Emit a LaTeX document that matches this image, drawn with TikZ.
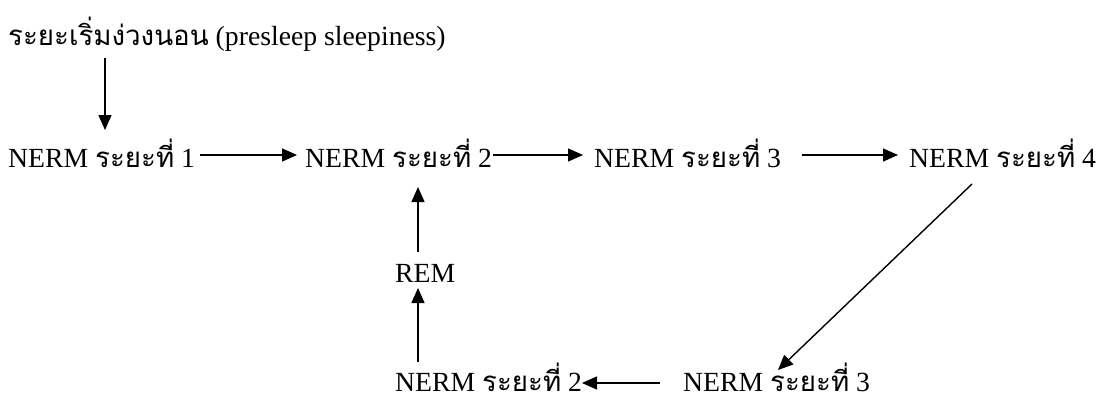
\documentclass[tikz,border=0pt]{standalone}
\usepackage{fontspec}
\setmainfont{Liberation Serif}
\newfontfamily\thai[Script=Thai]{Loma}
\usetikzlibrary{arrows.meta}
\begin{document}
\begin{tikzpicture}[x=1pt,y=1pt,
  lbl/.style={anchor=base west,inner sep=0pt,text depth=0pt,font=\fontsize{27.7}{33}\selectfont},
  arr/.style={line width=1.4pt,-{Triangle[length=15pt,width=13pt]}}]
\useasboundingbox (0,0) rectangle (1101,-399);
\node[lbl] (top) at (8,-45) {{\thai ระยะเริ่มง่วงนอน} (presleep sleepiness)};
\node[lbl] (n1) at (8,-167) {NERM {\thai ระยะที่} 1};
\node[lbl] (n2) at (305,-167) {NERM {\thai ระยะที่} 2};
\node[lbl] (n3) at (594,-167) {NERM {\thai ระยะที่} 3};
\node[lbl] (n4) at (909,-167) {NERM {\thai ระยะที่} 4};
\node[lbl] (rem) at (395,-282) {REM};
\node[lbl] (b2) at (395,-391) {NERM {\thai ระยะที่} 2};
\node[lbl] (b3) at (683,-391) {NERM {\thai ระยะที่} 3};
\draw[arr] ([shift={(97,-13)}]top.base west) -- ([shift={(97,37)}]n1.base west);
\draw[arr] ([shift={(-105,12)}]n2.base west) -- ([shift={(-8,12)}]n2.base west);
\draw[arr] ([shift={(-101,12)}]n3.base west) -- ([shift={(-11,12)}]n3.base west);
\draw[arr] ([shift={(-107,12)}]n4.base west) -- ([shift={(-11,12)}]n4.base west);
\draw[arr] ([shift={(23,30)}]rem.base west) -- ([shift={(23,95)}]rem.base west);
\draw[arr] ([shift={(23,29)}]b2.base west) -- ([shift={(23,-6)}]rem.base west);
\draw[arr] ([shift={(63,-17)}]n4.base west) -- ([shift={(95,21)}]b3.base west);
\draw[arr] ([shift={(-23,8)}]b3.base west) -- ([shift={(-101,8)}]b3.base west);
\end{tikzpicture}
\end{document}
